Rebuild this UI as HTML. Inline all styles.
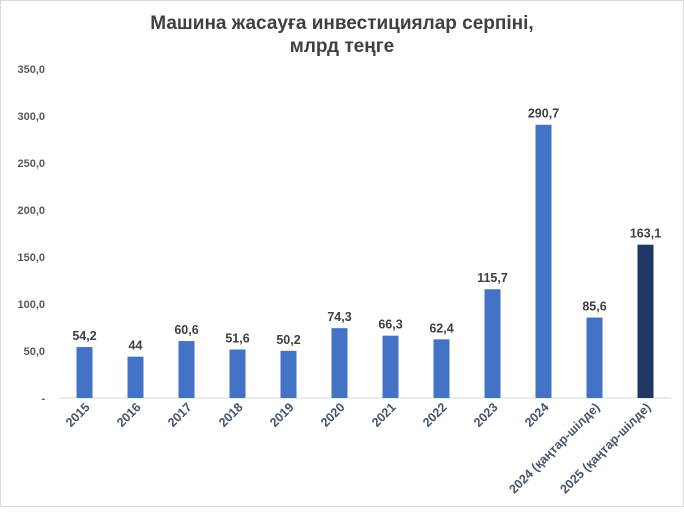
<!DOCTYPE html>
<html><head><meta charset="utf-8"><style>
body{margin:0;background:#fff;}
svg text{font-family:"Liberation Sans",sans-serif;}
</style></head><body>
<svg width="684" height="507" xmlns="http://www.w3.org/2000/svg">
<rect x="0.5" y="0.5" width="683" height="506" fill="#fff" stroke="#d9d9d9"/>
<text x="342" y="29" text-anchor="middle" font-size="19" font-weight="bold" fill="#404040">Машина жасауға инвестициялар серпіні,</text>
<text x="342" y="52" text-anchor="middle" font-size="19" font-weight="bold" fill="#404040">млрд теңге</text>
<g id="axes"></g><g id="bars"></g>
</svg>
<script>
const categories=["2015","2016","2017","2018","2019","2020","2021","2022","2023","2024","2024 (қаңтар-шілде)","2025 (қаңтар-шілде)"];
const values=[54.2,44,60.6,51.6,50.2,74.3,66.3,62.4,115.7,290.7,85.6,163.1];
const valueLabels=["54,2","44","60,6","51,6","50,2","74,3","66,3","62,4","115,7","290,7","85,6","163,1"];
const yTicks=[0,50,100,150,200,250,300,350];
const yTickLabels=["-","50,0","100,0","150,0","200,0","250,0","300,0","350,0"];
const NS="http://www.w3.org/2000/svg";
const x0=59,catW=51,y0=398,pxPer=47/50;
const y=v=>y0-v*pxPer;
const xc=i=>x0+catW*i+catW/2;
const ax=document.getElementById('axes'),bg=document.getElementById('bars');
function mk(tag,attrs,parent,txt){const e=document.createElementNS(NS,tag);for(const k in attrs)e.setAttribute(k,attrs[k]);if(txt!==undefined)e.textContent=txt;parent.appendChild(e);return e;}
yTicks.forEach((t,i)=>{
  const e=mk('text',{x:45,y:y(t)+4,'text-anchor':'end','font-size':11,'font-weight':'bold',fill:'#595959'},ax,yTickLabels[i]);
  
  
});
const axl=mk('line',{x1:x0,x2:x0+catW*categories.length,y1:y0,y2:y0,stroke:'#d9d9d9','stroke-width':1},ax);


categories.forEach((c,i)=>{
  const v=values[i],cx=xc(i);
  const r=mk('rect',{x:cx-8,y:y(v),width:16,height:y0-y(v),fill:i===11?'#203864':'#4472c4'},bg);
  
  
  const l=mk('text',{x:cx,y:y(v)-7,'text-anchor':'middle','font-size':12.5,'font-weight':'bold',fill:'#404040'},bg,valueLabels[i]);
  
  
  const t=mk('text',{x:cx+6,y:y0+10,'text-anchor':'end','font-size':12.5,'font-weight':'bold',fill:'#44546a',transform:`rotate(-45 ${cx+6} ${y0+10})`},ax,c);
  
  
});
</script>
</body></html>
